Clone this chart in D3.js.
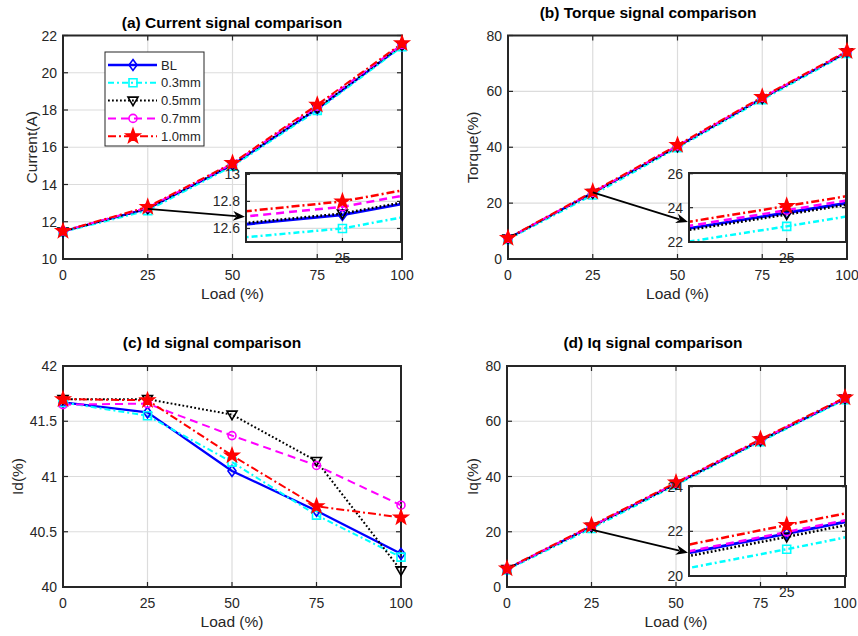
<!DOCTYPE html>
<html><head><meta charset="utf-8">
<script src="https://cdn.jsdelivr.net/npm/d3@7"></script>
<style>body{margin:0;background:#fff} svg{display:block} text{font-family:"Liberation Sans",Arial,sans-serif}</style>
</head><body><svg id="c" width="858" height="636"></svg>
<script>
const loads=[0,25,50,75,100];
const seriesNames=["BL","0.3mm","0.5mm","0.7mm","1.0mm"];
const currentValues=[
 [11.48,12.70,15.05,18.05,21.45],
 [11.45,12.60,14.98,17.98,21.40],
 [11.48,12.71,15.08,18.10,21.48],
 [11.50,12.76,15.12,18.20,21.52],
 [11.50,12.80,15.15,18.28,21.58]];
const torqueValues=[
 [7.3,23.7,40.3,57.5,74.0],
 [7.0,22.9,39.8,57.0,73.6],
 [7.3,23.6,40.2,57.5,74.0],
 [7.4,23.85,40.5,57.8,74.2],
 [7.5,24.1,40.8,58.0,74.4]];
const idValues=[
 [41.67,41.58,41.05,40.69,40.30],
 [41.67,41.55,41.13,40.65,40.27],
 [41.70,41.70,41.56,41.14,40.15],
 [41.65,41.66,41.37,41.10,40.74],
 [41.70,41.69,41.19,40.73,40.63]];
const iqValues=[
 [6.5,21.9,37.4,53.0,68.2],
 [6.2,21.2,36.9,52.6,67.8],
 [6.5,21.75,37.3,53.0,68.2],
 [6.6,21.97,37.6,53.3,68.4],
 [6.7,22.28,37.8,53.5,68.6]];
const xTicks=[0,25,50,75,100];
const currentTicks=[10,12,14,16,18,20,22];
const torqueTicks=[0,20,40,60,80];
const idTicks=[40,40.5,41,41.5,42];
const iqTicks=[0,20,40,60,80];
const currentDomain=[10,22], torqueDomain=[0,80], idDomain=[40,42], iqDomain=[0,80];
const currentInsetTicks=[12.6,12.8,13];
const torqueInsetTicks=[22,24,26];
const iqInsetTicks=[20,22,24];
const currentInsetDomain=[12.5,13.01], torqueInsetDomain=[21.98,26.04], iqInsetDomain=[20,24.03];
const insetXTicks=[25];
const insetXDomain=[23.6,25.85];
const titles=["(a) Current signal comparison","(b) Torque signal comparison","(c) Id signal comparison","(d) Iq signal comparison"];
const yLabels=["Current(A)","Torque(%)","Id(%)","Iq(%)"];
const xLabel="Load (%)";
// arrow annotations: [value at load 25 in main axes, value at inset left edge]
const currentArrow=[12.69,12.686];
const torqueArrow=[23.87,23.16];
const iqArrow=[20.8,21.04];

const styles=[
 {color:"#0000ff",width:2.3,dash:null,marker:"diamond"},
 {color:"#00ffff",width:2,dash:"6,3,2,3",marker:"square"},
 {color:"#000000",width:2,dash:"1.8,2.2",marker:"triangle"},
 {color:"#ff00ff",width:2,dash:"8,5",marker:"circle"},
 {color:"#ff0000",width:2,dash:"8,3,2,3",marker:"star"}];

function markerPath(type){
  if(type==="diamond") return "M0,-5.5L4,0L0,5.5L-4,0Z";
  if(type==="square") return "M-4,-4H4V4H-4Z";
  if(type==="triangle") return "M-5,-3.5H5L0,5Z";
  if(type==="circle") return d3.symbol(d3.symbolCircle,50)();
  if(type==="star"){
    let p=[];for(let i=0;i<10;i++){const r=i%2?2.9:7.2;const a=-Math.PI/2+i*Math.PI/5;p.push([r*Math.cos(a),r*Math.sin(a)]);}
    return "M"+p.map(d=>d.join(",")).join("L")+"Z";
  }
}
function drawMarker(g,type,color,x,y){
  g.append("path").attr("d",markerPath(type)).attr("transform",`translate(${x},${y})`)
   .attr("fill",type==="star"?color:"none").attr("stroke",color).attr("stroke-width",1.6);
}

const svg=d3.select("#c");
const TXT="#262626", GRID="#dcdcdc";
const panels=[
 {box:[63,402,35.5,259],dom:currentDomain,ticks:currentTicks,vals:currentValues,title:titles[0],tx:232,ty:28,yl:yLabels[0],ylx:32,
  inset:{box:[246,401,173,242],dom:currentInsetDomain,ticks:currentInsetTicks},arrow:currentArrow,legend:true},
 {box:[508,847,35.5,259],dom:torqueDomain,ticks:torqueTicks,vals:torqueValues,title:titles[1],tx:648,ty:18,yl:yLabels[1],ylx:473,
  inset:{box:[689,846,173,242],dom:torqueInsetDomain,ticks:torqueInsetTicks},arrow:torqueArrow},
 {box:[63,401,366,587],dom:idDomain,ticks:idTicks,vals:idValues,title:titles[2],tx:212,ty:348,yl:yLabels[2],ylx:18},
 {box:[507,845,366,587],dom:iqDomain,ticks:iqTicks,vals:iqValues,title:titles[3],tx:653,ty:348,yl:yLabels[3],ylx:473,
  inset:{box:[689,846,486,576],dom:iqInsetDomain,ticks:iqInsetTicks},arrow:iqArrow}
];

function frame(g,x,y,xt,yt,box){
  const [x0,x1,y0,y1]=box;
  g.append("rect").attr("x",x0).attr("y",y0).attr("width",x1-x0).attr("height",y1-y0).attr("fill","#fff");
  g.selectAll(null).data(xt).enter().append("line").attr("x1",d=>x(d)).attr("x2",d=>x(d)).attr("y1",y0).attr("y2",y1).attr("stroke",GRID).attr("stroke-width",1.2);
  g.selectAll(null).data(yt).enter().append("line").attr("y1",d=>y(d)).attr("y2",d=>y(d)).attr("x1",x0).attr("x2",x1).attr("stroke",GRID).attr("stroke-width",1.2);
}
function ticksAndBox(g,x,y,xt,yt,box,tl){
  const [x0,x1,y0,y1]=box;
  const tk=g.append("g").attr("stroke",TXT).attr("stroke-width",1.2);
  xt.forEach(d=>{tk.append("line").attr("x1",x(d)).attr("x2",x(d)).attr("y1",y1).attr("y2",y1-tl);
                 tk.append("line").attr("x1",x(d)).attr("x2",x(d)).attr("y1",y0).attr("y2",y0+tl);});
  yt.forEach(d=>{tk.append("line").attr("y1",y(d)).attr("y2",y(d)).attr("x1",x0).attr("x2",x0+tl);
                 tk.append("line").attr("y1",y(d)).attr("y2",y(d)).attr("x1",x1).attr("x2",x1-tl);});
  g.append("rect").attr("x",x0).attr("y",y0).attr("width",x1-x0).attr("height",y1-y0).attr("fill","none").attr("stroke",TXT).attr("stroke-width",2);
  g.selectAll(null).data(xt).enter().append("text").attr("x",d=>x(d)).attr("y",y1+21).attr("text-anchor","middle")
   .attr("font-size",14).attr("fill",TXT).text(d=>d);
  g.selectAll(null).data(yt).enter().append("text").attr("x",x0-6).attr("y",d=>y(d)+5).attr("text-anchor","end")
   .attr("font-size",14).attr("fill",TXT).text(d=>d);
}
function series(g,x,y,vals,clip,wScale){
  const line=d3.line().x((d,i)=>x(loads[i])).y(d=>y(d));
  const lg=g.append("g"); if(clip) lg.attr("clip-path",`url(#${clip})`);
  vals.forEach((v,k)=>{
    const s=styles[k];
    lg.append("path").attr("d",line(v)).attr("fill","none").attr("stroke",s.color).attr("stroke-width",s.width*wScale)
      .attr("stroke-dasharray",s.dash).attr("stroke-linejoin","round");
  });
  vals.forEach((v,k)=>{
    const s=styles[k];
    v.forEach((d,i)=>{
      const px=x(loads[i]);
      if(clip){const r=x.range(); if(px<r[0]-1||px>r[1]+1) return;}
      drawMarker(lg,s.marker,s.color,px,y(d));
    });
  });
}

panels.forEach((p,pi)=>{
  const g=svg.append("g");
  const [x0,x1,y0,y1]=p.box;
  const x=d3.scaleLinear().domain([0,100]).range([x0,x1]);
  const y=d3.scaleLinear().domain(p.dom).range([y1,y0]);
  frame(g,x,y,xTicks,p.ticks,p.box);
  ticksAndBox(g,x,y,xTicks,p.ticks,p.box,5);
  series(g,x,y,p.vals,null,1);
  g.append("text").attr("x",p.tx).attr("y",p.ty).attr("text-anchor","middle").attr("font-size",15.5).attr("font-weight","bold").attr("fill","#000").text(p.title);
  g.append("text").attr("x",(x0+x1)/2).attr("y",y1+40).attr("text-anchor","middle").attr("font-size",15.5).attr("fill",TXT).text(xLabel);
  g.append("text").attr("transform",`translate(${p.ylx},${(y0+y1)/2}) rotate(-90)`).attr("dy","0.35em").attr("text-anchor","middle").attr("font-size",15.5).attr("fill",TXT).text(p.yl);
  if(p.inset){
    const b=p.inset.box;
    const ix=d3.scaleLinear().domain(insetXDomain).range([b[0],b[1]]);
    const iy=d3.scaleLinear().domain(p.inset.dom).range([b[3],b[2]]);
    const cid="clip"+pi;
    svg.append("defs").append("clipPath").attr("id",cid).append("rect").attr("x",b[0]).attr("y",b[2]).attr("width",b[1]-b[0]).attr("height",b[3]-b[2]);
    const ig=svg.append("g");
    frame(ig,ix,iy,insetXTicks,p.inset.ticks,b);
    series(ig,ix,iy,p.vals,cid,1.25);
    ticksAndBox(ig,ix,iy,insetXTicks,p.inset.ticks,b,4);
    const sx=x(25), sy=y(p.arrow[0]), ex=ix(insetXDomain[0])-1, ey=iy(p.arrow[1]);
    const ang=Math.atan2(ey-sy,ex-sx), L=12;
    const ag=svg.append("g");
    ag.append("line").attr("x1",sx).attr("y1",sy).attr("x2",ex-(L-3)*Math.cos(ang)).attr("y2",ey-(L-3)*Math.sin(ang)).attr("stroke","#000").attr("stroke-width",1.8);
    ag.append("path").attr("d",`M0,0L${-L},${-4.8}L${-L+3.5},0L${-L},4.8Z`).attr("fill","#000")
      .attr("transform",`translate(${ex},${ey}) rotate(${ang*180/Math.PI})`);
  }
  if(p.legend){
    const lg=svg.append("g");
    lg.append("rect").attr("x",105).attr("y",52).attr("width",99).attr("height",94).attr("fill","#fff").attr("stroke",TXT).attr("stroke-width",1);
    seriesNames.forEach((n,k)=>{
      const s=styles[k], yy=65+k*17.8;
      lg.append("line").attr("x1",108).attr("x2",157).attr("y1",yy).attr("y2",yy).attr("stroke",s.color).attr("stroke-width",s.width).attr("stroke-dasharray",s.dash);
      drawMarker(lg,s.marker,s.color,133,yy);
      lg.append("text").attr("x",161).attr("y",yy+4.5).attr("font-size",13).attr("fill",TXT).text(n);
    });
  }
});
</script></body></html>
